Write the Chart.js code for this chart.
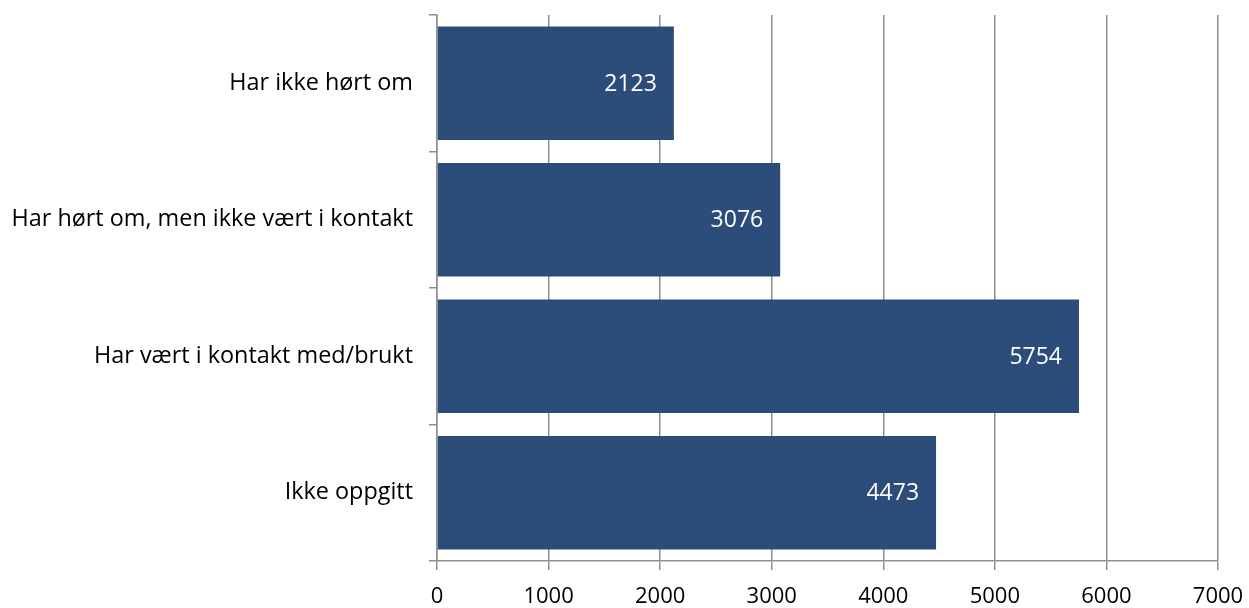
<!DOCTYPE html>
<html>
<head>
<meta charset="utf-8">
<script src="https://cdn.jsdelivr.net/npm/chart.js@4"></script>
<style>
  html, body { margin: 0; padding: 0; background: #fff; }
  #wrap { position: relative; width: 1249px; height: 608px; }
</style>
</head>
<body>
<div id="wrap"><canvas id="chart"></canvas></div>
<script>
"use strict";

const categories = [
  "Har ikke hørt om",
  "Har hørt om, men ikke vært i kontakt",
  "Har vært i kontakt med/brukt",
  "Ikke oppgitt",
];
const counts = [2123, 3076, 5754, 4473];
const xTicks = [0, 1000, 2000, 3000, 4000, 5000, 6000, 7000];

const BAR = "#2c4c79";
const GRID = "#8f8f8f";
const FONT = "'Open Sans', sans-serif";

// white value labels just inside the end of each bar
const valueLabels = {
  id: "valueLabels",
  afterDatasetsDraw(chart) {
    const ctx = chart.ctx;
    const meta = chart.getDatasetMeta(0);
    ctx.save();
    ctx.fillStyle = "#ffffff";
    ctx.font = "23px " + FONT;
    ctx.textAlign = "right";
    ctx.textBaseline = "middle";
    meta.data.forEach((bar, i) => {
      ctx.fillText(String(counts[i]), bar.x - 17, bar.y + 1);
    });
    ctx.restore();
  },
};

// fixed axis sizes, and no extra padding asked for by the tick labels
function pinSize(prop, size) {
  return (scale) => {
    scale[prop] = size;
    scale.paddingTop = scale.paddingBottom = scale.paddingLeft = scale.paddingRight = 0;
  };
}

new Chart(document.getElementById("chart"), {
  type: "bar",
  data: {
    labels: categories,
    datasets: [{
      data: counts,
      backgroundColor: BAR,
      borderWidth: 0,
      categoryPercentage: 1,
      barPercentage: 0.83,
    }],
  },
  options: {
    indexAxis: "y",
    responsive: true,
    maintainAspectRatio: false,
    animation: false,
    layout: { padding: { top: 15, right: 31, left: 0, bottom: 0 } },
    plugins: { legend: { display: false }, tooltip: { enabled: false } },
    scales: {
      x: {
        min: 0,
        max: 7000,
        afterBuildTicks: (scale) => { scale.ticks = xTicks.map((v) => ({ value: v })); },
        afterFit: pinSize("height", 47),
        grid: { color: GRID, lineWidth: 1.5, tickLength: 9 },
        border: { color: GRID, width: 1.5 },
        ticks: {
          color: "#000",
          font: { family: FONT, size: 22 },
          padding: 14,
          callback: (v) => String(v),
        },
      },
      y: {
        afterFit: pinSize("width", 437),
        grid: { offset: true, drawOnChartArea: false, color: GRID, lineWidth: 1.5, tickLength: 8 },
        border: { color: GRID, width: 1.5 },
        ticks: { color: "#000", font: { family: FONT, size: 23.4 }, padding: 16 },
      },
    },
  },
  plugins: [valueLabels],
});
</script>
</body>
</html>
